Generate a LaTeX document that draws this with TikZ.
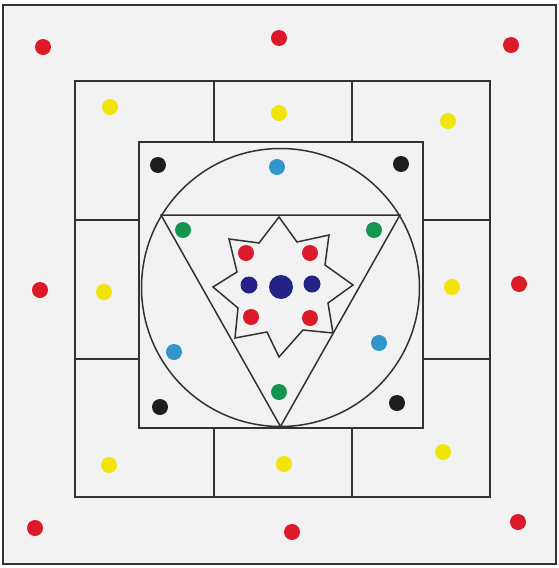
\documentclass[tikz,border=0pt]{standalone}
\definecolor{paper}{RGB}{242,242,242}
\definecolor{ink}{RGB}{50,50,50}
\definecolor{dotred}{RGB}{220,25,40}
\definecolor{dotyellow}{RGB}{240,228,10}
\definecolor{dotblack}{RGB}{30,30,30}
\definecolor{dotcyan}{RGB}{50,150,205}
\definecolor{dotgreen}{RGB}{20,150,80}
\definecolor{dotnavy}{RGB}{35,35,135}
\tikzset{
  wall/.style={draw=ink, line width=1.9pt},
  thin wall/.style={draw=ink, line width=1.5pt},
  dot/.style={fill=#1}
}
\begin{document}
\begin{tikzpicture}[x=1pt, y=-1pt]
    \useasboundingbox (0,0) rectangle (559,568);
    \fill[white] (0,0) rectangle (559,568);
    % outer frame
    \draw[fill=paper, draw=ink, line width=2.8pt] (3,5) rectangle (556,564);
    % middle square with its cells
    \draw[wall] (75,81) rectangle (490,497);
    \draw[wall] (139,142) rectangle (423,428);
    \foreach \x in {214,352} {
        \draw[wall] (\x,81) -- (\x,142);
        \draw[wall] (\x,428) -- (\x,497);
    }
    \foreach \y in {220,359} {
        \draw[wall] (75,\y) -- (139,\y);
        \draw[wall] (423,\y) -- (490,\y);
    }
    % circle, triangle and star
    \draw[thin wall] (280.5,287.5) circle[radius=139pt];
    \draw[thin wall] (161,215) -- (400,215) -- (280.5,426.5) -- cycle;
    \draw[thin wall, line join=miter] (279,217) -- (297,242) -- (329,235) -- (325,265)
        -- (353,285) -- (328,303) -- (333,333) -- (303,330) -- (279,357)
        -- (267,332) -- (235,338) -- (238,308) -- (213,287) -- (237,272)
        -- (229,239) -- (259,243) -- cycle;
    % dots
    \foreach \x/\y in {43/47, 279/38, 511/45, 40/290, 519/284, 35/528, 292/532, 518/522} {
        \fill[dot=dotred] (\x,\y) circle[radius=8pt];
    }
    \foreach \x/\y in {110/107, 279/113, 448/121, 104/292, 452/287, 109/465, 284/464, 443/452} {
        \fill[dot=dotyellow] (\x,\y) circle[radius=8pt];
    }
    \foreach \x/\y in {158/165, 401/164, 160/407, 397/403} {
        \fill[dot=dotblack] (\x,\y) circle[radius=8pt];
    }
    \foreach \x/\y in {277/167, 174/352, 379/343} {
        \fill[dot=dotcyan] (\x,\y) circle[radius=8pt];
    }
    \foreach \x/\y in {183/230, 374/230, 279/392} {
        \fill[dot=dotgreen] (\x,\y) circle[radius=8pt];
    }
    \foreach \x/\y in {246/253, 310/253, 251/317, 310/318} {
        \fill[dot=dotred] (\x,\y) circle[radius=8pt];
    }
    \foreach \x/\y in {249/285, 312/284} {
        \fill[dot=dotnavy] (\x,\y) circle[radius=8.5pt];
    }
    \fill[dot=dotnavy] (281,287) circle[radius=12pt];
\end{tikzpicture}
\end{document}
